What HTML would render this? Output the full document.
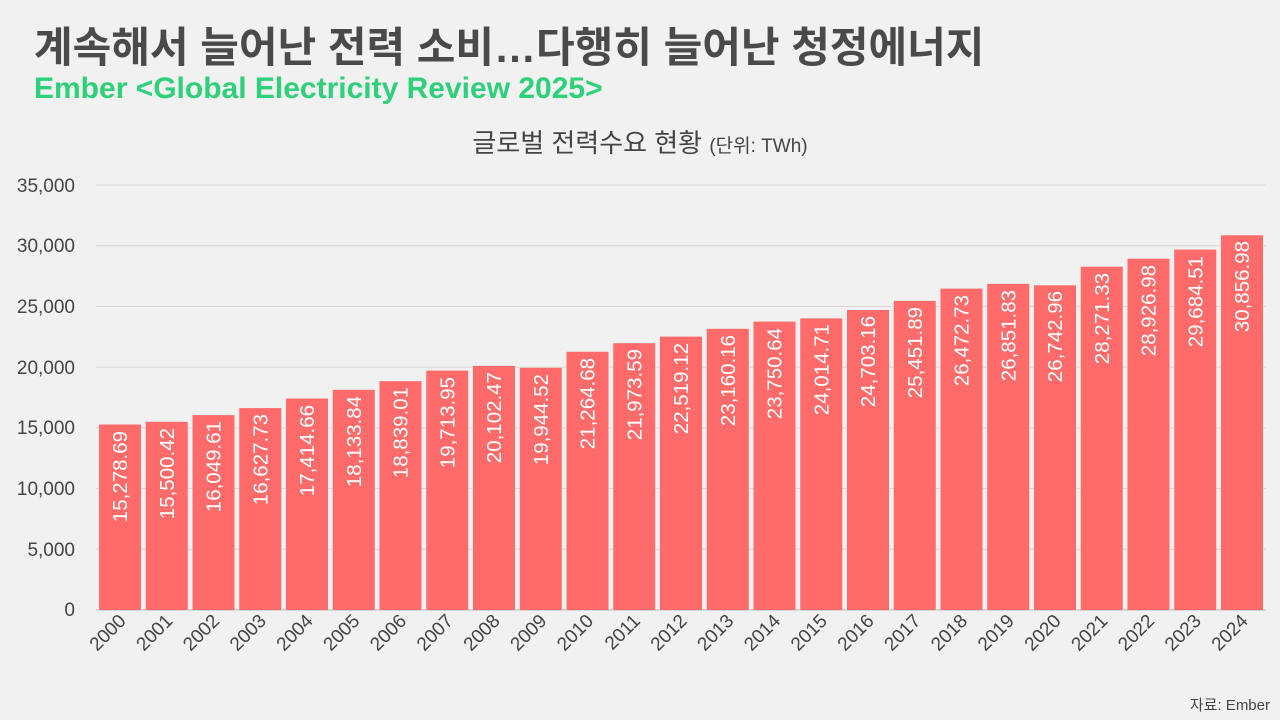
<!DOCTYPE html>
<html><head><meta charset="utf-8"><style>
html,body{margin:0;padding:0;background:#f1f1f1;}
svg{display:block;}
text{font-family:"Liberation Sans","Noto Sans CJK KR",sans-serif;}
</style></head><body>
<svg width="1280" height="720" xmlns="http://www.w3.org/2000/svg">
<rect width="1280" height="720" fill="#f1f1f1"/>
<text x="34" y="62" font-size="42" font-weight="bold" fill="#4a4a4a">계속해서 늘어난 전력 소비…다행히 늘어난 청정에너지</text>
<text x="34" y="98" font-size="30" font-weight="bold" fill="#2ed07a">Ember &lt;Global Electricity Review 2025&gt;</text>
<text x="640" y="152" font-size="26" fill="#444" text-anchor="middle">글로벌 전력수요 현황 <tspan font-size="19">(단위: TWh)</tspan></text>
<g stroke="#d6d6d6" stroke-width="1">
<line x1="96" x2="1266" y1="185" y2="185"/>
<line x1="96" x2="1266" y1="245.7" y2="245.7"/>
<line x1="96" x2="1266" y1="306.4" y2="306.4"/>
<line x1="96" x2="1266" y1="367.1" y2="367.1"/>
<line x1="96" x2="1266" y1="427.9" y2="427.9"/>
<line x1="96" x2="1266" y1="488.6" y2="488.6"/>
<line x1="96" x2="1266" y1="549.3" y2="549.3"/>
<line x1="96" x2="1266" y1="610" y2="610" stroke="#bbb"/>
</g>
<g font-size="19" fill="#444" text-anchor="end">
<text x="75" y="192">35,000</text>
<text x="75" y="252">30,000</text>
<text x="75" y="313">25,000</text>
<text x="75" y="374">20,000</text>
<text x="75" y="434">15,000</text>
<text x="75" y="495">10,000</text>
<text x="75" y="556">5,000</text>
<text x="75" y="616">0</text>
</g>
<g fill="#ff6b6b">
<rect x="99" y="424.5" width="42" height="185.5"/>
<rect x="145.75" y="421.8" width="42" height="188.2"/>
<rect x="192.5" y="415.1" width="42" height="194.9"/>
<rect x="239.25" y="408.1" width="42" height="201.9"/>
<rect x="286" y="398.5" width="42" height="211.5"/>
<rect x="332.75" y="389.8" width="42" height="220.2"/>
<rect x="379.5" y="381.2" width="42" height="228.8"/>
<rect x="426.25" y="370.6" width="42" height="239.4"/>
<rect x="473" y="365.9" width="42" height="244.1"/>
<rect x="519.75" y="367.8" width="42" height="242.2"/>
<rect x="566.5" y="351.8" width="42" height="258.2"/>
<rect x="613.25" y="343.2" width="42" height="266.8"/>
<rect x="660" y="336.6" width="42" height="273.4"/>
<rect x="706.75" y="328.8" width="42" height="281.2"/>
<rect x="753.5" y="321.6" width="42" height="288.4"/>
<rect x="800.25" y="318.4" width="42" height="291.6"/>
<rect x="847" y="310" width="42" height="300"/>
<rect x="893.75" y="300.9" width="42" height="309.1"/>
<rect x="940.5" y="288.6" width="42" height="321.4"/>
<rect x="987.25" y="283.9" width="42" height="326.1"/>
<rect x="1034" y="285.3" width="42" height="324.7"/>
<rect x="1080.75" y="266.7" width="42" height="343.3"/>
<rect x="1127.5" y="258.7" width="42" height="351.3"/>
<rect x="1174.25" y="249.6" width="42" height="360.4"/>
<rect x="1221" y="235.3" width="42" height="374.7"/>
</g>
<g font-size="20.5" fill="#fff" text-anchor="end">
<text transform="translate(127,431) rotate(-90)">15,278.69</text>
<text transform="translate(173.75,428) rotate(-90)">15,500.42</text>
<text transform="translate(220.5,421) rotate(-90)">16,049.61</text>
<text transform="translate(267.25,414) rotate(-90)">16,627.73</text>
<text transform="translate(314,405) rotate(-90)">17,414.66</text>
<text transform="translate(360.75,396) rotate(-90)">18,133.84</text>
<text transform="translate(407.5,387) rotate(-90)">18,839.01</text>
<text transform="translate(454.25,377) rotate(-90)">19,713.95</text>
<text transform="translate(501,372) rotate(-90)">20,102.47</text>
<text transform="translate(547.75,374) rotate(-90)">19,944.52</text>
<text transform="translate(594.5,358) rotate(-90)">21,264.68</text>
<text transform="translate(641.25,349) rotate(-90)">21,973.59</text>
<text transform="translate(688,343) rotate(-90)">22,519.12</text>
<text transform="translate(734.75,335) rotate(-90)">23,160.16</text>
<text transform="translate(781.5,328) rotate(-90)">23,750.64</text>
<text transform="translate(828.25,324) rotate(-90)">24,014.71</text>
<text transform="translate(875,316) rotate(-90)">24,703.16</text>
<text transform="translate(921.75,307) rotate(-90)">25,451.89</text>
<text transform="translate(968.5,295) rotate(-90)">26,472.73</text>
<text transform="translate(1015.25,290) rotate(-90)">26,851.83</text>
<text transform="translate(1062,291) rotate(-90)">26,742.96</text>
<text transform="translate(1108.75,273) rotate(-90)">28,271.33</text>
<text transform="translate(1155.5,265) rotate(-90)">28,926.98</text>
<text transform="translate(1202.25,256) rotate(-90)">29,684.51</text>
<text transform="translate(1249,241) rotate(-90)">30,856.98</text>
</g>
<g font-size="19" fill="#444" text-anchor="end">
<text transform="translate(127,622) rotate(-45)">2000</text>
<text transform="translate(173.75,622) rotate(-45)">2001</text>
<text transform="translate(220.5,622) rotate(-45)">2002</text>
<text transform="translate(267.25,622) rotate(-45)">2003</text>
<text transform="translate(314,622) rotate(-45)">2004</text>
<text transform="translate(360.75,622) rotate(-45)">2005</text>
<text transform="translate(407.5,622) rotate(-45)">2006</text>
<text transform="translate(454.25,622) rotate(-45)">2007</text>
<text transform="translate(501,622) rotate(-45)">2008</text>
<text transform="translate(547.75,622) rotate(-45)">2009</text>
<text transform="translate(594.5,622) rotate(-45)">2010</text>
<text transform="translate(641.25,622) rotate(-45)">2011</text>
<text transform="translate(688,622) rotate(-45)">2012</text>
<text transform="translate(734.75,622) rotate(-45)">2013</text>
<text transform="translate(781.5,622) rotate(-45)">2014</text>
<text transform="translate(828.25,622) rotate(-45)">2015</text>
<text transform="translate(875,622) rotate(-45)">2016</text>
<text transform="translate(921.75,622) rotate(-45)">2017</text>
<text transform="translate(968.5,622) rotate(-45)">2018</text>
<text transform="translate(1015.25,622) rotate(-45)">2019</text>
<text transform="translate(1062,622) rotate(-45)">2020</text>
<text transform="translate(1108.75,622) rotate(-45)">2021</text>
<text transform="translate(1155.5,622) rotate(-45)">2022</text>
<text transform="translate(1202.25,622) rotate(-45)">2023</text>
<text transform="translate(1249,622) rotate(-45)">2024</text>
</g>
<text x="1270" y="710" font-size="15" fill="#444" text-anchor="end">자료: Ember</text>
</svg>
</body></html>
